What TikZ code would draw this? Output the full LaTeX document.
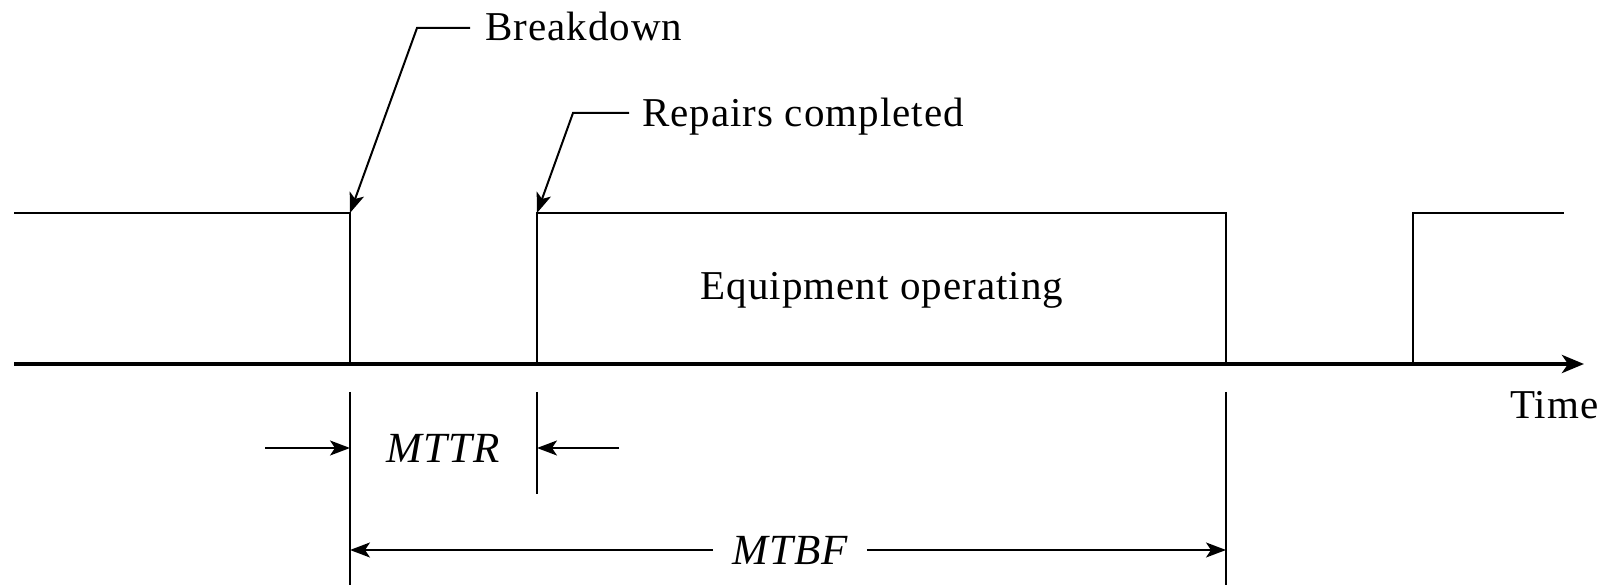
\documentclass[tikz,border=0pt]{standalone}
\usepackage{fontspec}
\setmainfont{Liberation Serif}[LetterSpace=2.5]
\usetikzlibrary{arrows.meta}
\begin{document}
\begin{tikzpicture}[x=1pt,y=-1pt,
  sig/.style={line width=2pt},
  axisline/.style={line width=4pt,-{Stealth[length=22pt,width=18pt,inset=6pt]}},
  leaderarrow/.style={line width=2pt,-{Stealth[length=20pt,width=15pt,inset=5pt]}},
  lbl/.style={font=\fontsize{41}{46}\selectfont,inner sep=0pt},
  ilbl/.style={font=\fontsize{43}{48}\selectfont\itshape,inner sep=0pt},
]
\useasboundingbox (0,0) rectangle (1610,585);
% signal coordinates
\coordinate (s0) at (14,213);
\coordinate (bd) at (350,213);
\coordinate (bdax) at (350,364);
\coordinate (rc) at (537,213);
\coordinate (rcax) at (537,364);
\coordinate (fl) at (1226,213);
\coordinate (flax) at (1226,364);
\coordinate (nx) at (1413,213);
\coordinate (nxax) at (1413,364);
\coordinate (nxend) at (1564,213);
\coordinate (ax0) at (14,364);
\coordinate (ax1) at (1584,364);
% signal
\draw[sig] (s0) -- (bd) -- (bdax);
\draw[sig] (rcax) -- (rc) -- (fl) -- (flax);
\draw[sig] (nxax) -- (nx) -- (nxend);
% time axis
\draw[axisline] (ax0) -- (ax1);
\node[lbl,anchor=base west] (time) at (1510,418) {Time};
\node[lbl,anchor=base] (eq) at (882,300) {Equipment operating};
% leaders
\node[lbl,anchor=base west] (bdtxt) at (485,41) {Breakdown};
\coordinate (bdend) at (470,28);
\coordinate (bdknee) at (417,28);
\draw[leaderarrow] (bdend) -- (bdknee) -- (bd);
\node[lbl,anchor=base west] (rctxt) at (642,127) {Repairs completed};
\coordinate (rcend) at (629,113);
\coordinate (rcknee) at (573,113);
\draw[leaderarrow] (rcend) -- (rcknee) -- (rc);
% extension lines
\coordinate (e1a) at (350,392); \coordinate (e1b) at (350,585);
\coordinate (e2a) at (537,392); \coordinate (e2b) at (537,494);
\coordinate (e3a) at (1226,392); \coordinate (e3b) at (1226,585);
\draw[sig] (e1a) -- (e1b);
\draw[sig] (e2a) -- (e2b);
\draw[sig] (e3a) -- (e3b);
% MTTR
\coordinate (m1) at (265,448); \coordinate (m1t) at (350,448);
\coordinate (m2) at (619,448); \coordinate (m2t) at (537,448);
\draw[leaderarrow] (m1) -- (m1t);
\draw[leaderarrow] (m2) -- (m2t);
\node[ilbl,anchor=base] (mttr) at (443,462) {MTTR};
% MTBF
\node[ilbl,anchor=base,inner xsep=19pt] (mtbf) at (790,564) {MTBF};
\coordinate (b1) at (350,550); \coordinate (b2) at (1226,550);
\draw[leaderarrow] (mtbf.west |- b1) -- (b1);
\draw[leaderarrow] (mtbf.east |- b2) -- (b2);
\end{tikzpicture}
\end{document}
